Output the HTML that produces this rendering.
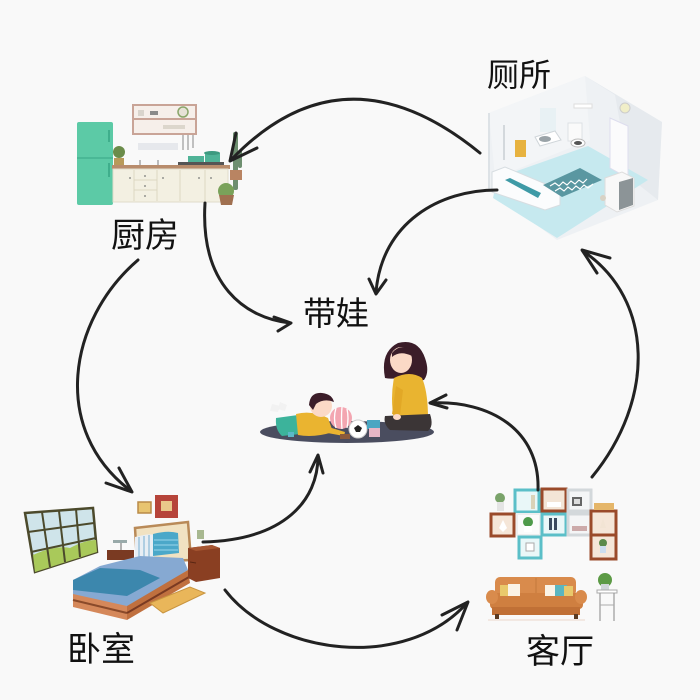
<!DOCTYPE html>
<html><head><meta charset="utf-8">
<style>
html,body{margin:0;padding:0;background:#f9f9f9;}
svg{display:block;}
.lbl{font-family:"Liberation Sans","Noto Sans CJK SC",sans-serif;fill:#111;}
.ar{fill:none;stroke:#222;stroke-width:3;stroke-linecap:round;stroke-linejoin:round;}
</style></head>
<body>
<svg width="700" height="700" viewBox="0 0 700 700" xmlns="http://www.w3.org/2000/svg">
<rect width="700" height="700" fill="#f9f9f9"/>

<!-- ============ KITCHEN ============ -->
<g>
  <!-- fridge -->
  <rect x="77" y="122" width="36" height="83" rx="2" fill="#5ccaa6"/>
  <line x1="77" y1="158" x2="113" y2="158" stroke="#3fae8c" stroke-width="1.2"/>
  <rect x="108" y="130" width="2" height="12" fill="#3fae8c"/>
  <rect x="108" y="163" width="2" height="14" fill="#3fae8c"/>
  <!-- upper shelf -->
  <rect x="133" y="105" width="63" height="29" fill="#f6efea" stroke="#c9a497" stroke-width="2"/>
  <line x1="133" y1="119" x2="196" y2="119" stroke="#c9a497" stroke-width="2"/>
  <rect x="138" y="110" width="6" height="6" fill="#d9d4cc"/>
  <rect x="150" y="111" width="8" height="4" fill="#8a8a8a"/>
  <circle cx="183" cy="112" r="5" fill="#e6e2d6" stroke="#8aa66a" stroke-width="1.5"/>
  <rect x="163" y="125" width="22" height="4" fill="#dcd6cc"/>
  <!-- utensils -->
  <line x1="183" y1="135" x2="183" y2="150" stroke="#888" stroke-width="1"/>
  <line x1="188" y1="135" x2="188" y2="150" stroke="#888" stroke-width="1"/>
  <line x1="193" y1="135" x2="193" y2="148" stroke="#888" stroke-width="1"/>
  <!-- hood -->
  <rect x="138" y="143" width="40" height="7" fill="#e6e8ec"/>
  <!-- plant left -->
  <rect x="114" y="158" width="10" height="10" fill="#b89a5a"/>
  <circle cx="119" cy="152" r="6" fill="#6b8c4a"/>
  <!-- pots -->
  <path d="M188 156 h16 v6 h-16z" fill="#4fb397"/>
  <path d="M205 153 h15 v9 h-15z" fill="#4fb397"/>
  <ellipse cx="212" cy="153" rx="8" ry="2" fill="#3d9a80"/>
  <rect x="178" y="162" width="46" height="3" fill="#555"/>
  <!-- faucet -->
  <line x1="140" y1="160" x2="140" y2="166" stroke="#999" stroke-width="1.3"/>
  <line x1="158" y1="160" x2="158" y2="166" stroke="#999" stroke-width="1.3"/>
  <!-- countertop -->
  <rect x="112" y="165" width="118" height="4" fill="#b88c6c"/>
  <rect x="113" y="169" width="115" height="33" fill="#f3f0e2" stroke="#e0dccb" stroke-width="1"/>
  <line x1="134" y1="170" x2="134" y2="201" stroke="#dcd7c2"/>
  <line x1="157" y1="170" x2="157" y2="201" stroke="#dcd7c2"/>
  <line x1="180" y1="170" x2="180" y2="201" stroke="#dcd7c2"/>
  <line x1="205" y1="170" x2="205" y2="201" stroke="#dcd7c2"/>
  <line x1="134" y1="180" x2="157" y2="180" stroke="#dcd7c2"/>
  <line x1="134" y1="190" x2="157" y2="190" stroke="#dcd7c2"/>
  <circle cx="145" cy="176" r="0.9" fill="#777"/>
  <circle cx="145" cy="186" r="0.9" fill="#777"/>
  <circle cx="145" cy="196" r="0.9" fill="#777"/>
  <circle cx="130" cy="178" r="0.9" fill="#777"/>
  <circle cx="163" cy="178" r="0.9" fill="#777"/>
  <circle cx="199" cy="178" r="0.9" fill="#777"/>
  <circle cx="211" cy="178" r="0.9" fill="#777"/>
  <!-- cactus -->
  <rect x="233" y="132" width="5" height="58" rx="2" fill="#6e8f70"/>
  <rect x="238" y="150" width="4" height="18" rx="2" fill="#6e8f70"/>
  <rect x="230" y="170" width="12" height="10" fill="#b98462"/>
  <!-- potted plant -->
  <circle cx="226" cy="191" r="8" fill="#7aa25a"/>
  <path d="M219 195 h15 l-2 10 h-11z" fill="#a07050"/>
</g>

<!-- ============ BATHROOM ============ -->
<g>
  <polygon points="489,113 585,76 662,122 658,200 557,240 489,190" fill="#eef1f4"/>
  <!-- right wall shade -->
  <polygon points="585,76 662,122 658,200 630,178 615,95" fill="#e6eaee"/>
  <!-- left wall -->
  <polygon points="489,113 585,76 590,140 495,178" fill="#f3f5f7"/>
  <line x1="489" y1="113" x2="489" y2="190" stroke="#dde2e6" stroke-width="2"/>
  <!-- floor -->
  <polygon points="497,178 588,146 648,180 557,238 493,198" fill="#c6e9ef"/>
  <!-- mirror / shower -->
  <rect x="540" y="108" width="16" height="24" fill="#e8f1f4"/>
  <line x1="504" y1="125" x2="504" y2="160" stroke="#c8ced2" stroke-width="1.5"/>
  <!-- towel -->
  <rect x="515" y="140" width="11" height="17" fill="#e7b23f"/>
  <!-- sink -->
  <polygon points="535,137 555,131 561,140 540,146" fill="#ffffff" stroke="#d0d6da"/>
  <ellipse cx="545" cy="139" rx="6" ry="3" fill="#9aa3a8"/>
  <!-- toilet -->
  <rect x="568" y="123" width="14" height="18" fill="#fafafa" stroke="#dde1e4"/>
  <ellipse cx="578" cy="143" rx="7" ry="4" fill="#fff" stroke="#bbb"/>
  <ellipse cx="578" cy="143" rx="4" ry="2" fill="#555"/>
  <rect x="574" y="104" width="18" height="4" fill="#fff" stroke="#ddd"/>
  <circle cx="625" cy="108" r="5" fill="#f0eec8" stroke="#ccc"/>
  <!-- door right wall -->
  <polygon points="610,118 628,126 628,178 610,168" fill="#fbfbfc" stroke="#dde"/>
  <!-- bathtub -->
  <polygon points="492,172 505,167 560,190 560,205 545,210 492,192" fill="#fbfcfd" stroke="#d7dde1"/>
  <polygon points="505,180 510,178 541,193 538,198" fill="#3e9aa6"/>
  <!-- mat -->
  <polygon points="543,185 580,168 602,180 562,197" fill="#5a97a1"/>
  <polyline points="550,186 555,183 559,186 563,182 567,185 571,181 575,184 579,180 583,183 587,179" fill="none" stroke="#fff" stroke-width="1.2"/>
  <polyline points="555,191 560,188 564,191 568,187 572,190 576,186 580,189 584,185 588,188 593,184" fill="none" stroke="#fff" stroke-width="1.2"/>
  <!-- cabinet -->
  <polygon points="605,178 622,172 634,178 634,206 617,212 605,205" fill="#f8f8f8" stroke="#ddd"/>
  <polygon points="619,182 633,178 633,205 619,210" fill="#8c9497"/>
  <circle cx="603" cy="198" r="3" fill="#d8d2c5"/>
</g>

<!-- ============ MOTHER & CHILD ============ -->
<g>
  <ellipse cx="347" cy="432" rx="87" ry="11" fill="#4a4d5f"/>
  <!-- mother -->
  <path d="M385 378 Q380 352 398 343 Q418 338 425 358 Q430 372 424 380 Q412 382 405 376 Q394 380 385 378z" fill="#3b1d29"/>
  <ellipse cx="401" cy="360" rx="11" ry="13" fill="#fbd9c6"/>
  <path d="M392 353 Q400 343 412 350 L412 356 Q400 350 392 357z" fill="#3b1d29"/>
  <path d="M394 378 Q410 370 422 378 Q428 392 428 418 L394 420 Q390 398 394 378z" fill="#e9b430"/>
  <path d="M385 416 L430 414 Q434 426 428 431 L390 430 Q383 424 385 416z" fill="#3b3536"/>
  <path d="M396 386 L392 414 L400 416 L403 390z" fill="#e2a826"/>
  <ellipse cx="397" cy="417" rx="4" ry="3" fill="#fbd9c6"/>
  <!-- child -->
  <path d="M276 418 L298 415 L300 434 L282 436 Q275 430 276 418z" fill="#3cb39b"/>
  <path d="M272 404 l8 2 l-2 6 l-8-1z" fill="#f2f2f2"/>
  <path d="M280 402 l7 3 l-2 6 l-7-2z" fill="#f2f2f2"/>
  <path d="M296 414 Q312 410 328 418 L333 432 Q314 438 298 435z" fill="#eab430"/>
  <circle cx="321" cy="406" r="11" fill="#fbd9c6"/>
  <path d="M309 405 Q310 392 322 393 Q332 394 334 402 Q324 398 316 404 L313 410z" fill="#3b1d29"/>
  <path d="M325 426 L345 432 L344 436 L322 432z" fill="#eab430"/>
  <rect x="340" y="434" width="10" height="5" fill="#8b5a3c"/>
  <!-- toys -->
  <circle cx="341" cy="418" r="11" fill="#f3a6b1"/>
  <path d="M336 408 Q333 418 336 428 M342 407 Q341 418 342 429 M347 409 Q349 418 347 428" stroke="#fff" stroke-width="1.3" fill="none"/>
  <circle cx="358" cy="429" r="9" fill="#ffffff" stroke="#ccc"/>
  <polygon points="358,425 362,428 360,432 356,432 354,428" fill="#222"/>
  <rect x="367" y="420" width="13" height="9" fill="#49a6c2"/>
  <rect x="369" y="428" width="11" height="9" fill="#e7b6c6"/>
  <rect x="288" y="432" width="6" height="5" fill="#5bb8c8"/>
</g>

<!-- ============ BEDROOM ============ -->
<g>
  <!-- window -->
  <polygon points="25,513 93,508 97,552 35,572" fill="#cfe4ea" stroke="#4c4a2c" stroke-width="2.5"/>
  <path d="M33 555 Q55 545 70 548 Q85 540 96 540 L97 552 L35 572z" fill="#a9c95a"/>
  <line x1="42" y1="512" x2="50" y2="567" stroke="#4c4a2c" stroke-width="2"/>
  <line x1="59" y1="511" x2="65" y2="562" stroke="#4c4a2c" stroke-width="2"/>
  <line x1="76" y1="509" x2="80" y2="557" stroke="#4c4a2c" stroke-width="2"/>
  <line x1="28" y1="532" x2="94" y2="523" stroke="#4c4a2c" stroke-width="2"/>
  <line x1="31" y1="552" x2="96" y2="538" stroke="#4c4a2c" stroke-width="2"/>
  <!-- pictures -->
  <rect x="138" y="502" width="13" height="11" fill="#e8c470" stroke="#b98a48" stroke-width="1.5"/>
  <rect x="155" y="495" width="23" height="23" fill="#b6443a"/>
  <rect x="161" y="501" width="11" height="10" fill="#e9c78a"/>
  <!-- headboard -->
  <polygon points="135,528 188,522 191,560 137,562" fill="#f1e2c2" stroke="#b98a58" stroke-width="2.5"/>
  <!-- pillows -->
  <path d="M135 537 Q150 533 154 535 L154 557 L135 558z" fill="#e8eef4"/>
  <path d="M139 537 v20 M144 536 v21 M149 535 v22" stroke="#9cc3dc" stroke-width="1.5"/>
  <path d="M153 534 Q168 530 178 533 L179 553 L153 556z" fill="#4ba8c9"/>
  <path d="M154 540 h24 M154 545 h24 M154 550 h24" stroke="#9ad6ea" stroke-width="1"/>
  <!-- left nightstand + lamp -->
  <rect x="107" y="550" width="27" height="10" fill="#7a3a22"/>
  <line x1="121" y1="542" x2="121" y2="550" stroke="#666" stroke-width="1"/>
  <rect x="113" y="540" width="14" height="3" fill="#9aa" />
  <!-- bed -->
  <polygon points="73,580 100,566 140,556 183,558 188,570 127,608 73,596" fill="#86a9d2"/>
  <polygon points="73,580 100,568 140,570 160,578 127,596 73,590" fill="#3c87ad"/>
  <polygon points="73,594 127,606 127,620 73,607" fill="#d5885a"/>
  <polygon points="127,606 188,570 190,583 127,620" fill="#c0703f"/>
  <line x1="73" y1="600" x2="127" y2="613" stroke="#8a4a2a" stroke-width="2"/>
  <line x1="127" y1="613" x2="189" y2="577" stroke="#7a3a22" stroke-width="2"/>
  <!-- right nightstand -->
  <polygon points="188,548 212,545 220,548 220,578 196,582 188,578" fill="#8a3f22"/>
  <polygon points="188,548 212,545 220,548 196,551" fill="#a65632"/>
  <line x1="190" y1="562" x2="196" y2="563" stroke="#5a2612"/>
  <rect x="197" y="530" width="7" height="9" fill="#a8b890"/>
  <!-- rug -->
  <polygon points="150,603 190,587 205,593 163,613" fill="#e9b65a" stroke="#c99540"/>
</g>

<!-- ============ LIVING ROOM ============ -->
<g>
  <!-- shelves -->
  <rect x="515" y="490" width="24" height="22" fill="#e9f7f8" stroke="#5bbfc8" stroke-width="3"/>
  <rect x="542" y="489" width="24" height="22" fill="#f3e5d6" stroke="#9a4a2a" stroke-width="3"/>
  <rect x="568" y="490" width="23" height="21" fill="#f4f5f6" stroke="#d3d8db" stroke-width="3"/>
  <rect x="491" y="514" width="23" height="22" fill="#f5e6d8" stroke="#9a4a2a" stroke-width="3"/>
  <rect x="517" y="514" width="23" height="21" fill="#fbfbfb" stroke="#eeeeee" stroke-width="2"/>
  <rect x="542" y="514" width="24" height="21" fill="#e9f7f8" stroke="#5bbfc8" stroke-width="3"/>
  <rect x="568" y="514" width="23" height="21" fill="#f4f5f6" stroke="#d3d8db" stroke-width="3"/>
  <rect x="519" y="537" width="22" height="21" fill="#e9f7f8" stroke="#5bbfc8" stroke-width="3"/>
  <rect x="591" y="511" width="25" height="48" fill="#f5e6d8" stroke="#9a4a2a" stroke-width="3"/>
  <line x1="591" y1="535" x2="616" y2="535" stroke="#9a4a2a" stroke-width="3"/>
  <rect x="594" y="503" width="20" height="7" fill="#e5b66a"/>
  <!-- shelf items -->
  <rect x="531" y="495" width="4" height="14" fill="#d9d2b8"/>
  <rect x="547" y="502" width="14" height="5" fill="#fff"/>
  <rect x="572" y="497" width="10" height="9" fill="#666" />
  <rect x="574" y="499" width="6" height="5" fill="#ddd"/>
  <path d="M503 520 l-4 8 l4 4 l4-4z" fill="#fff"/>
  <circle cx="528" cy="522" r="5" fill="#4e9a4a"/>
  <rect x="524" y="526" width="8" height="6" fill="#fff"/>
  <rect x="549" y="518" width="3" height="12" fill="#3a4b5e"/>
  <rect x="554" y="518" width="3" height="12" fill="#3a4b5e"/>
  <rect x="572" y="526" width="15" height="5" fill="#caa"/>
  <rect x="526" y="543" width="8" height="8" fill="#fff" stroke="#aaa"/>
  <path d="M603 518 l-3 10 h6z" fill="#f2e4d4"/>
  <circle cx="603" cy="543" r="4" fill="#5b8a4a"/>
  <rect x="600" y="546" width="6" height="7" fill="#cde"/>
  <circle cx="500" cy="498" r="5" fill="#7aa36a"/>
  <rect x="497" y="502" width="7" height="9" fill="#e4e4e4"/>
  <!-- sofa -->
  <rect x="495" y="577" width="81" height="19" rx="5" fill="#d98b4c"/>
  <line x1="536" y1="578" x2="536" y2="595" stroke="#c47a3d" stroke-width="1"/>
  <rect x="490" y="593" width="93" height="16" rx="4" fill="#cf7f40"/>
  <ellipse cx="492" cy="597" rx="6" ry="7" fill="#d98b4c"/>
  <ellipse cx="581" cy="597" rx="6" ry="7" fill="#d98b4c"/>
  <rect x="492" y="607" width="88" height="8" fill="#c07036"/>
  <rect x="495" y="614" width="4" height="5" fill="#5a3a22"/>
  <rect x="574" y="614" width="4" height="5" fill="#5a3a22"/>
  <rect x="500" y="585" width="11" height="11" fill="#e9c96b"/>
  <rect x="508" y="584" width="12" height="12" fill="#faf3e6"/>
  <rect x="545" y="585" width="11" height="11" fill="#faf3e6"/>
  <rect x="555" y="585" width="12" height="11" fill="#5bb6c0"/>
  <rect x="564" y="586" width="9" height="10" fill="#e9c96b"/>
  <line x1="488" y1="620" x2="585" y2="620" stroke="#ead8cc" stroke-width="1"/>
  <!-- plant stand -->
  <circle cx="605" cy="580" r="7" fill="#5c9a45"/>
  <rect x="601" y="584" width="8" height="6" fill="#cfd5d8"/>
  <rect x="597" y="590" width="20" height="3" fill="#fff" stroke="#aaa" stroke-width="1"/>
  <line x1="600" y1="593" x2="600" y2="621" stroke="#999" stroke-width="1.2"/>
  <line x1="614" y1="593" x2="614" y2="621" stroke="#999" stroke-width="1.2"/>
  <line x1="600" y1="605" x2="614" y2="605" stroke="#aaa" stroke-width="1"/>
</g>

<!-- ============ ARROWS ============ -->
<g class="ar">
  <!-- 1 bathroom -> kitchen -->
  <path d="M480 153 Q344 42 231 160"/>
  <path d="M236 133 L230 161 L257 148"/>
  <!-- 2 bathroom -> childcare -->
  <path d="M497 190 C440 190 382 222 376 292"/>
  <path d="M369 279 L376 294 L386 280"/>
  <!-- 3 kitchen -> childcare -->
  <path d="M205 203 C200 285 245 318 290 323"/>
  <path d="M274 317 L291 323 L278 331"/>
  <!-- 4 kitchen -> bedroom -->
  <path d="M138 260 C68 320 50 430 131 491"/>
  <path d="M119 468 L132 492 L106 483"/>
  <!-- 5 bedroom -> childcare -->
  <path d="M203 542 C285 540 318 500 318 456"/>
  <path d="M310 472 L318 455 L323 473"/>
  <!-- 6 bedroom -> living room -->
  <path d="M225 590 C275 655 405 672 467 603"/>
  <path d="M442 615 L468 602 L457 630"/>
  <!-- 7 living room -> childcare -->
  <path d="M538 490 C540 430 490 400 431 403"/>
  <path d="M446 395 L430 403 L447 408"/>
  <!-- 8 living room -> bathroom -->
  <path d="M592 477 C655 400 655 300 583 251"/>
  <path d="M610 258 L582 250 L597 273"/>
</g>

<!-- ============ LABELS ============ -->
<text class="lbl" x="111" y="247" font-size="34">厨房</text>
<text class="lbl" x="487" y="86" font-size="32">厕所</text>
<text class="lbl" x="303" y="325" font-size="33">带娃</text>
<text class="lbl" x="67" y="661" font-size="34">卧室</text>
<text class="lbl" x="526" y="663" font-size="34">客厅</text>
</svg>
</body></html>
